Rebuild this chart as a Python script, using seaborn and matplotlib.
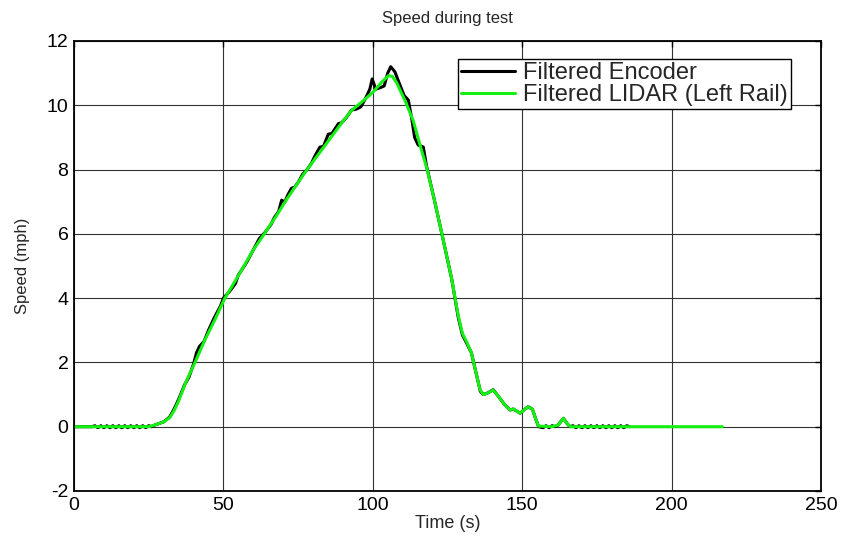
import matplotlib
matplotlib.use("Agg")
import matplotlib.pyplot as plt
import numpy as np
import pandas as pd
import seaborn as sns

# Filtered LIDAR speed (left rail): time in s, speed in mph
lidar_time = [0, 25, 27, 30, 32, 33.5, 35, 37.5, 40.5, 43.8, 47, 50.5, 55, 60,
              63.7, 68, 71, 75, 78, 82, 86, 90, 93, 96.3, 100, 103, 105.2,
              106.5, 108, 111, 113.6, 116, 118, 120.5, 123, 126.4, 128.6, 130,
              131.4, 133, 134.5, 135.9, 137, 138.5, 140.3, 142, 144, 145.9,
              147, 149.3, 151, 152, 153.4, 154.5, 155.4, 160, 162, 163.8, 165,
              166.1, 217]
lidar_speed = [0, 0, 0.05, 0.15, 0.28, 0.5, 0.8, 1.4, 2.0, 2.7, 3.3, 4.0, 4.7,
               5.5, 6.0, 6.6, 7.05, 7.6, 8.0, 8.5, 9.0, 9.5, 9.85, 10.1, 10.4,
               10.72, 10.92, 10.9, 10.7, 10.1, 9.5, 8.7, 8.07, 7.1, 6.05, 4.6,
               3.45, 2.9, 2.64, 2.3, 1.7, 1.15, 1.0, 1.05, 1.14, 0.95, 0.7,
               0.52, 0.55, 0.42, 0.55, 0.62, 0.55, 0.25, 0.02, 0.0, 0.05, 0.26,
               0.1, 0.0, 0.0]

# Filtered encoder speed
encoder_time = [0, 6, 7, 8, 9, 10, 11, 12, 13, 14, 15, 16, 17, 18, 19, 20, 21,
                22, 23, 24, 25, 26, 27, 30, 32, 33.5, 35, 37, 38.5, 40, 41, 42,
                43.5, 45, 47, 49, 50, 52, 54, 55, 57, 58, 60, 62, 64, 66, 67,
                68.5, 69.5, 70.5, 71.5, 72.8, 73.8, 75, 76.5, 78, 79.5, 80.5,
                82.3, 83.5, 85.1, 86.3, 88.5, 89.5, 91, 92.9, 94.5, 96, 97.5,
                99, 99.8, 101, 102.6, 103.8, 105, 106, 107.4, 109, 110.5, 111.9,
                113, 114, 115.2, 116.9, 118, 120.5, 123, 126.4, 128.6, 130,
                131.4, 133, 134.5, 136, 137, 138.5, 140.3, 142, 144, 146, 147,
                149.3, 151, 152, 153.4, 154.5, 155.5, 157, 158, 159, 160, 161,
                162, 163.8, 165, 166, 167, 168, 169, 170, 171, 172, 173, 174,
                175, 176, 177, 178, 179, 180, 181, 182, 183, 184, 185, 186]
encoder_speed = [0, 0, 0.03, -0.03, 0.03, -0.03, 0.03, -0.03, 0.03, -0.03,
                 0.03, -0.03, 0.03, -0.03, 0.03, -0.03, 0.03, -0.03, 0.03,
                 -0.03, 0.03, 0.0, 0.05, 0.15, 0.3, 0.55, 0.85, 1.3, 1.55, 1.95,
                 2.3, 2.5, 2.65, 3.0, 3.4, 3.75, 4.0, 4.2, 4.45, 4.72, 5.0,
                 5.15, 5.5, 5.85, 6.05, 6.3, 6.5, 6.7, 7.05, 6.98, 7.2, 7.42,
                 7.45, 7.6, 7.85, 8.0, 8.2, 8.4, 8.7, 8.72, 9.1, 9.12, 9.43,
                 9.45, 9.6, 9.85, 9.88, 9.95, 10.2, 10.5, 10.82, 10.5, 10.55,
                 10.6, 11.0, 11.2, 11.04, 10.65, 10.3, 10.16, 9.6, 9.0, 8.76,
                 8.7, 8.1, 7.1, 6.05, 4.6, 3.4, 2.85, 2.6, 2.3, 1.7, 1.1, 1.0,
                 1.05, 1.15, 0.95, 0.7, 0.52, 0.55, 0.42, 0.55, 0.62, 0.55,
                 0.25, 0.0, -0.03, 0.03, -0.03, 0.03, 0.0, 0.05, 0.26, 0.1, 0.0,
                 0.03, -0.03, 0.03, -0.03, 0.03, -0.03, 0.03, -0.03, 0.03,
                 -0.03, 0.03, -0.03, 0.03, -0.03, 0.03, -0.03, 0.03, -0.03,
                 0.03, 0.0]

x_ticks = [0, 50, 100, 150, 200, 250]
y_ticks = [-2, 0, 2, 4, 6, 8, 10, 12]

encoder = pd.DataFrame({"t": encoder_time, "v": encoder_speed})
lidar = pd.DataFrame({"t": lidar_time, "v": lidar_speed})

sns.set_style("white")
plt.rcParams["font.family"] = ["Liberation Sans", "DejaVu Sans"]
plt.rcParams["axes.unicode_minus"] = False

fig = plt.figure(figsize=(8.44, 5.37), dpi=100)
ax = fig.add_axes([0.0877, 0.0857, 0.8850, 0.8380])

sns.lineplot(data=encoder, x="t", y="v", ax=ax, color="black", lw=2.2,
             label="Filtered Encoder", sort=False, estimator=None)
sns.lineplot(data=lidar, x="t", y="v", ax=ax, color="#14f014", lw=2.2,
             label="Filtered LIDAR (Left Rail)", sort=False, estimator=None)

ax.set_xlim(0, 250)
ax.set_ylim(-2, 12)
ax.set_xticks(x_ticks)
ax.set_yticks(y_ticks)
ax.grid(True, color="#333333", lw=0.8)
ax.set_axisbelow(True)
for s in ax.spines.values():
    s.set_color("black")
    s.set_linewidth(1.3)
ax.tick_params(direction="in", length=4, width=1, colors="black",
               top=True, right=True, labelsize=14, pad=4)

ax.set_title("Speed during test", fontsize=12, pad=13)
ax.set_xlabel("Time (s)", fontsize=13, labelpad=1)
ax.set_ylabel("Speed (mph)", fontsize=12, labelpad=12)

leg = ax.legend(loc="upper right", bbox_to_anchor=(0.96, 0.96),
                borderaxespad=0, fancybox=False, frameon=True,
                fontsize=17, handlelength=2.3, handletextpad=0.35,
                labelspacing=0.0, borderpad=0.12)
leg.get_frame().set_edgecolor("black")
leg.get_frame().set_linewidth(1.0)
leg.get_frame().set_alpha(1)

fig.savefig("out.png", dpi=100)
